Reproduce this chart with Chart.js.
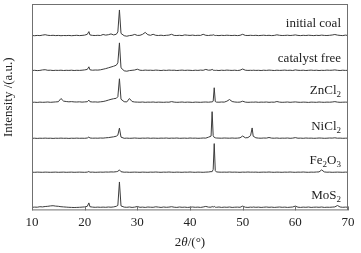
<!DOCTYPE html>
<html>
<head>
<meta charset="utf-8">
<script src="https://cdn.jsdelivr.net/npm/chart.js@4.4.0/dist/chart.umd.min.js"></script>
<style>
    html, body { margin: 0; padding: 0; background: #fff; }
    #wrap { width: 361px; height: 253px; }
</style>
</head>
<body>
<div id="wrap"><canvas id="xrdChart" width="361" height="253"></canvas></div>
<script>
// XRD patterns of coal samples, stacked

const twoTheta = [
    10, 10.5, 11, 11.5, 12, 12.5, 13, 13.5, 14, 14.5, 15, 15.5, 16, 16.5, 17, 17.5, 18, 18.5, 19, 19.5, 20, 20.5,
    20.8,
    21, 21.5, 22, 22.5, 23, 23.5, 24, 24.5, 25, 25.5, 26,
    26.3, 26.6, 26.9,
    27.5, 28, 28.5, 29, 29.5, 30, 30.5, 31, 31.5, 32, 32.5, 33, 33.5, 34, 34.5, 35, 35.5, 36, 36.5, 37, 37.5, 38, 38.5, 39, 39.5, 40, 40.5, 41, 41.5, 42, 42.5, 43, 43.5, 44,
    44.2, 44.4, 44.6, 44.8,
    45, 45.5, 46, 46.5, 47, 47.5, 48, 48.5, 49, 49.5, 50, 50.5, 51, 51.5,
    51.8,
    52, 52.5, 53, 53.5, 54, 54.5, 55, 55.5, 56, 56.5, 57, 57.5, 58, 58.5, 59, 59.5, 60, 60.5, 61, 61.5, 62, 62.5, 63, 63.5, 64, 64.5, 65, 65.5, 66, 66.5, 67, 67.5, 68, 68.5, 69, 69.5, 70
];

const sampleNames = ['initial coal', 'catalyst free', 'ZnCl2', 'NiCl2', 'Fe2O3', 'MoS2'];

const initialCoal = [
    0.4, 0.2, 0.5, 0.3, 0.8, 1.2, 0.6, 0.4, 0.6, 0.3, 0.5, 0.2, 0.4, 0.3, 0.5, 0.2, 0.4, 0.6, 0.3, 0.5, 0.8, 1.6,
    4.3,
    1.0, 0.5, 0.4, 0.6, 0.4, 1.4, 0.8, 1.2, 2.0, 1.0, 1.6,
    4, 26, 2.5,
    0.2, -0.3, 0.3, 0.6, 1.5, 0.5, 0.6, 1.6, 3.5, 1.2, 0.6, 1.6, 0.6, 0.4, 0.7, 0.3, 0.6, 0.8, 1.6, 0.5, 0.4, 0.6, 0.3, 1.0, 0.7, 0.5, 0.8, 0.4, 0.6, 0.5, 1.6, 0.6, 0.4, 0.8,
    0.6, 1.2, 0.7, 0.4,
    0.5, 0.3, 0.6, 0.4, 0.7, 0.5, 0.4, 0.6, 0.3, 0.6, 1.6, 0.5, 0.4, 0.6,
    0.5,
    0.4, 0.6, 0.3, 0.5, 0.7, 0.4, 0.6, 0.3, 0.5, 1.1, 0.6, 0.4, 0.5, 0.7, 0.4, 0.6, 1.0, 0.5, 0.3, 0.6, 0.4, 0.7, 0.5, 0.3, 0.6, 0.4, 0.8, 0.5, 0.4, 0.6, 0.9, 1.4, 0.8, 0.5, 0.3, 0.8, 0.4
];

const catalystFree = [
    0.3, 0.5, 0.2, 0.4, 0.9, 1.1, 0.5, 0.6, 0.3, 0.5, 0.4, 0.6, 0.3, 0.5, 0.4, 0.6, 0.3, 0.5, 0.4, 0.6, 0.9, 1.4,
    4,
    1.0, 0.6, 0.8, 0.7, 1.0, 1.6, 2.2, 3.0, 3.8, 4.6, 5.6,
    8, 28, 3,
    0.0, -0.4, 0.2, 0.5, 0.8, 1.6, 0.6, 0.4, 0.7, 0.5, 0.6, 0.4, 0.7, 0.5, 0.3, 0.6, 0.4, 0.7, 0.5, 0.6, 0.3, 0.5, 0.7, 0.4, 0.6, 0.5, 0.3, 0.6, 0.4, 0.7, 0.5, 1.4, 0.6, 0.8,
    1.5, 0.6, 0.5, 0.4,
    0.5, 0.3, 0.6, 0.4, 0.7, 0.5, 0.4, 0.6, 0.3, 0.6, 1.8, 0.6, 0.4, 0.5,
    0.4,
    0.6, 0.4, 0.5, 0.3, 0.6, 0.4, 0.7, 0.5, 0.3, 0.6, 0.4, 0.5, 0.7, 0.4, 0.6, 0.3, 0.9, 0.5, 0.4, 0.6, 0.3, 0.5, 0.7, 0.4, 0.6, 0.3, 0.5, 0.4, 0.7, 0.5, 0.6, 0.9, 0.5, 0.3, 0.6, 0.4, 0.5
];

const znCl2 = [
    0.4, 0.5, 0.3, 0.6, 0.4, 0.5, 0.7, 0.4, 0.6, 0.8, 1.0, 4.2, 1.6, 1.2, 0.9, 1.1, 0.8, 0.7, 0.9, 0.6, 0.8, 1.0,
    2.6,
    1.0, 0.7, 0.8, 0.6, 0.9, 1.2, 1.8, 2.6, 3.4, 4.0, 4.4,
    6, 24, 3.5,
    1.0, 0.8, 4.2, 1.2, 0.7, 0.6, 0.5, 0.7, 0.4, 0.6, 0.5, 0.7, 0.4, 0.6, 0.5, 0.4, 0.6, 0.5, 1.1, 0.6, 0.4, 0.5, 0.7, 0.4, 0.6, 0.5, 0.3, 0.6, 0.5, 0.4, 0.6, 0.7, 0.5, 0.8,
    0.8, 1.5, 15, 1.2,
    0.6, 0.5, 0.7, 0.6, 1.5, 3.2, 1.2, 0.7, 0.5, 0.6, 1.5, 0.6, 0.4, 0.5,
    0.6,
    0.5, 0.7, 0.4, 0.6, 0.5, 0.7, 0.4, 0.6, 0.5, 1.2, 0.6, 0.4, 0.5, 0.7, 0.4, 0.6, 0.8, 0.5, 0.4, 0.6, 0.5, 0.3, 0.6, 0.5, 0.4, 0.7, 0.5, 0.4, 0.6, 0.5, 0.7, 1.1, 0.6, 0.4, 0.5, 0.6, 0.5
];

const niCl2 = [
    0.3, 0.4, 0.2, 0.4, 0.3, 0.5, 0.3, 0.4, 0.2, 0.4, 0.3, 0.5, 0.3, 0.4, 0.2, 0.4, 0.3, 0.5, 0.3, 0.4, 0.3, 0.6,
    1.6,
    0.6, 0.4, 0.5, 0.4, 0.6, 0.5, 0.8, 1.0, 1.4, 1.8, 2.4,
    3.5, 10.5, 1.5,
    0.3, 0.5, 0.3, 0.4, 0.6, 0.4, 0.3, 0.5, 0.4, 0.6, 0.3, 0.5, 0.4, 0.3, 0.5, 0.4, 0.6, 0.3, 0.5, 0.4, 0.6, 0.3, 0.4, 0.5, 0.3, 0.6, 0.4, 0.5, 0.3, 0.4, 0.6, 0.5, 1.4, 2.5,
    27, 3, 1.2, 0.8,
    0.6, 0.5, 0.4, 0.6, 0.5, 0.4, 0.6, 0.4, 0.5, 0.8, 2.6, 0.8, 1.0, 3.0,
    10.7,
    2.4, 0.8, 0.5, 0.4, 0.6, 0.5, 1.1, 0.5, 0.4, 0.6, 0.3, 0.5, 0.4, 0.6, 0.3, 0.5, 1.0, 0.4, 0.5, 0.3, 0.6, 0.4, 0.5, 0.3, 0.4, 0.6, 0.5, 0.3, 0.4, 0.6, 0.5, 0.8, 0.4, 0.5, 0.3, 0.4, 0.5
];

const fe2O3 = [
    0.3, 0.2, 0.4, 0.3, 0.2, 0.4, 0.3, 0.2, 0.3, 0.4, 0.2, 0.3, 0.4, 0.2, 0.3, 0.4, 0.2, 0.3, 0.4, 0.3, 0.2, 0.4,
    1.0,
    0.3, 0.4, 0.2, 0.3, 0.4, 0.3, 0.5, 0.4, 0.6, 0.5, 0.8,
    1.2, 2.6, 0.8,
    0.3, 0.4, 0.2, 0.3, 0.4, 0.3, 0.2, 0.4, 0.3, 0.2, 0.4, 0.3, 0.5, 0.3, 0.2, 0.4, 0.3, 0.5, 0.3, 0.2, 0.4, 0.3, 0.2, 0.4, 0.3, 0.5, 0.3, 0.2, 0.4, 0.3, 0.2, 0.4, 0.5, 0.9,
    0.8, 3, 29, 2,
    0.6, 0.4, 0.3, 0.4, 0.3, 0.5, 0.3, 0.4, 0.3, 0.2, 0.4, 0.3, 0.5, 0.3,
    0.4,
    0.3, 0.4, 0.2, 0.3, 0.4, 0.3, 0.5, 0.3, 0.2, 0.4, 0.3, 0.2, 0.4, 0.3, 0.5, 0.3, 0.2, 0.4, 0.3, 0.5, 0.3, 0.2, 0.4, 0.3, 0.5, 0.6, 2.6, 0.6, 0.3, 0.4, 0.2, 0.3, 0.4, 0.3, 0.2, 0.4, 0.3
];

const moS2 = [
    0.6, 0.8, 0.7, 1.2, 1.0, 1.4, 1.6, 2.0, 2.2, 1.8, 1.6, 1.2, 1.0, 0.8, 0.6, 0.5, 0.4, 0.5, 0.6, 0.8, 1.0, 1.6,
    5,
    1.2, 0.8, 0.6, 0.8, 0.6, 0.8, 0.6, 0.9, 0.7, 1.0, 1.6,
    2.5, 26, 2,
    0.8, 0.6, 0.9, 0.5, 0.8, 1.4, 0.6, 0.8, 0.5, 0.9, 0.7, 0.6, 1.1, 0.8, 0.5, 0.9, 0.6, 0.8, 1.2, 0.7, 0.5, 0.9, 0.6, 0.8, 0.5, 0.7, 0.9, 0.6, 0.8, 0.5, 0.9, 1.5, 0.8, 0.7,
    1.4, 0.8, 1.5, 0.7,
    0.6, 0.9, 0.5, 0.8, 0.6, 0.9, 0.5, 0.7, 0.8, 0.6, 1.8, 0.7, 0.5, 0.8,
    0.6,
    0.9, 0.6, 0.8, 0.5, 0.7, 0.9, 0.6, 0.8, 0.5, 0.7, 0.9, 0.6, 0.8, 0.5, 0.7, 0.9, 1.8, 0.7, 0.5, 0.8, 0.6, 0.9, 0.5, 0.7, 0.8, 0.6, 0.9, 0.5, 0.7, 0.6, 0.8, 1.0, 2.4, 0.9, 0.6, 0.8, 0.7
];

// vertical shift of each pattern in the stack (a.u.)
const stackOffset = [175, 140, 108, 72, 38, 2.5];
const xTicks = [10, 20, 30, 40, 50, 60, 70];

const patterns = [initialCoal, catalystFree, znCl2, niCl2, fe2O3, moS2];
const serif = "'Liberation Serif', 'Times New Roman', serif";

// draws text where every digit becomes a subscript, right aligned at x
function drawChemLabel(ctx, text, xRight, y) {
    const parts = [];
    for (const ch of text) {
        const sub = /[0-9]/.test(ch);
        if (parts.length && parts[parts.length - 1].sub === sub) parts[parts.length - 1].t += ch;
        else parts.push({ t: ch, sub: sub });
    }
    const fontFor = p => p.sub ? '9px ' + serif : '13px ' + serif;
    let total = 0;
    parts.forEach(p => { ctx.font = fontFor(p); total += ctx.measureText(p.t).width; });
    let x = xRight - total;
    parts.forEach(p => {
        ctx.font = fontFor(p);
        ctx.fillText(p.t, x, p.sub ? y + 3 : y);
        x += ctx.measureText(p.t).width;
    });
}

const decorPlugin = {
    id: 'xrdDecor',
    afterDraw(chart) {
        const ctx = chart.ctx;
        const area = chart.chartArea;
        const xs = chart.scales.x;
        const ys = chart.scales.y;
        ctx.save();

        // frame
        ctx.strokeStyle = '#707070';
        ctx.lineWidth = 1;
        ctx.strokeRect(area.left + 0.5, area.top + 0.5, area.right - area.left - 1, area.bottom - area.top - 1);

        // inward ticks on the bottom axis
        xTicks.forEach(v => {
            const px = Math.round(xs.getPixelForValue(v)) + 0.5;
            ctx.beginPath();
            ctx.moveTo(px, area.bottom);
            ctx.lineTo(px, area.bottom - 4);
            ctx.stroke();
        });

        // sample names
        ctx.fillStyle = '#222';
        ctx.textBaseline = 'alphabetic';
        ctx.textAlign = 'left';
        sampleNames.forEach((name, i) => {
            const y = ys.getPixelForValue(stackOffset[i] + 9);
            drawChemLabel(ctx, name, area.right - 7, y);
        });

        // y axis title
        ctx.save();
        ctx.translate(9, (area.top + area.bottom) / 2 - 10);
        ctx.rotate(-Math.PI / 2);
        ctx.textAlign = 'center';
        ctx.textBaseline = 'middle';
        ctx.font = '13px ' + serif;
        ctx.fillText('Intensity /(a.u.)', 0, 0);
        ctx.restore();

        // x axis title: 2θ/(°) with italic theta
        const pieces = [
            { t: '2', f: '13px ' + serif },
            { t: 'θ', f: 'italic 13px ' + serif },
            { t: '/(°)', f: '13px ' + serif }
        ];
        let w = 0;
        pieces.forEach(p => { ctx.font = p.f; w += ctx.measureText(p.t).width; });
        let x = (area.left + area.right) / 2 - w / 2;
        ctx.textBaseline = 'middle';
        ctx.textAlign = 'left';
        pieces.forEach(p => {
            ctx.font = p.f;
            ctx.fillText(p.t, x, 243);
            x += ctx.measureText(p.t).width;
        });

        ctx.restore();
    }
};

const datasets = patterns.map((vals, i) => ({
    label: sampleNames[i],
    data: twoTheta.map((t, j) => ({ x: t, y: vals[j] + stackOffset[i] })),
    borderColor: '#3c3c3c',
    borderWidth: 1,
    pointRadius: 0,
    tension: 0,
    fill: false
}));

new Chart(document.getElementById('xrdChart').getContext('2d'), {
    type: 'line',
    data: { datasets: datasets },
    options: {
        responsive: false,
        animation: false,
        layout: { padding: { left: 32, right: 13, top: 4, bottom: 19 } },
        plugins: {
            legend: { display: false },
            tooltip: { enabled: false }
        },
        scales: {
            x: {
                type: 'linear',
                min: 10,
                max: 70,
                afterBuildTicks: axis => { axis.ticks = xTicks.map(v => ({ value: v })); },
                grid: { display: false, drawTicks: false },
                border: { display: false },
                ticks: {
                    color: '#222',
                    padding: 4,
                    font: { family: serif, size: 13 }
                }
            },
            y: {
                display: false,
                min: 0,
                max: 207
            }
        }
    },
    plugins: [decorPlugin]
});
</script>
</body>
</html>
